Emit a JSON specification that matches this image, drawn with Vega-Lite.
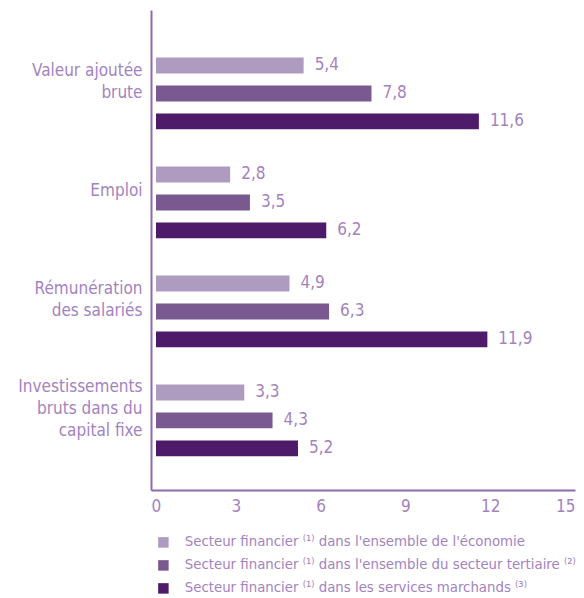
{
  "$schema": "https://vega.github.io/schema/vega-lite/v6.json",
  "width": 424,
  "height": 480,
  "padding": {"left": 17, "top": 10, "right": 5, "bottom": 5},
  "config": {
    "view": {"stroke": null},
    "font": "'DejaVu Sans Condensed', sans-serif",
    "locale": {"number": {"decimal": ",", "thousands": " ", "grouping": [3], "currency": ["", " €"]}}
  },
  "data": {
    "values": [
      {"cat": "Valeur ajoutée brute", "serie": "Secteur financier ⁽¹⁾ dans l'ensemble de l'économie", "v": 5.4},
      {"cat": "Valeur ajoutée brute", "serie": "Secteur financier ⁽¹⁾ dans l'ensemble du secteur tertiaire ⁽²⁾", "v": 7.8},
      {"cat": "Valeur ajoutée brute", "serie": "Secteur financier ⁽¹⁾ dans les services marchands ⁽³⁾", "v": 11.6},
      {"cat": "Emploi", "serie": "Secteur financier ⁽¹⁾ dans l'ensemble de l'économie", "v": 2.8},
      {"cat": "Emploi", "serie": "Secteur financier ⁽¹⁾ dans l'ensemble du secteur tertiaire ⁽²⁾", "v": 3.5},
      {"cat": "Emploi", "serie": "Secteur financier ⁽¹⁾ dans les services marchands ⁽³⁾", "v": 6.2},
      {"cat": "Rémunération des salariés", "serie": "Secteur financier ⁽¹⁾ dans l'ensemble de l'économie", "v": 4.9},
      {"cat": "Rémunération des salariés", "serie": "Secteur financier ⁽¹⁾ dans l'ensemble du secteur tertiaire ⁽²⁾", "v": 6.3},
      {"cat": "Rémunération des salariés", "serie": "Secteur financier ⁽¹⁾ dans les services marchands ⁽³⁾", "v": 11.9},
      {"cat": "Investissements bruts dans du capital fixe", "serie": "Secteur financier ⁽¹⁾ dans l'ensemble de l'économie", "v": 3.3},
      {"cat": "Investissements bruts dans du capital fixe", "serie": "Secteur financier ⁽¹⁾ dans l'ensemble du secteur tertiaire ⁽²⁾", "v": 4.3},
      {"cat": "Investissements bruts dans du capital fixe", "serie": "Secteur financier ⁽¹⁾ dans les services marchands ⁽³⁾", "v": 5.2}
    ]
  },
  "encoding": {
    "y": {
      "field": "cat", "type": "nominal", "sort": null,
      "scale": {"paddingInner": 0.23, "paddingOuter": 0.317, "align": 0.6},
      "axis": {
        "title": null, "ticks": false, "domainColor": "#8e6aa9", "domainWidth": 2,
        "labelColor": "#a383bf", "labelFontSize": 17, "labelPadding": 9, "labelLineHeight": 22,
        "labelOffset": {"condition": [
          {"test": "datum.value == 'Emploi'", "value": -11},
          {"test": "datum.value == 'Investissements bruts dans du capital fixe'", "value": -33}
        ], "value": -22},
        "labelLimit": 200,
        "labelExpr": "datum.label == 'Valeur ajoutée brute' ? ['Valeur ajoutée','brute'] : datum.label == 'Rémunération des salariés' ? ['Rémunération','des salariés'] : datum.label == 'Investissements bruts dans du capital fixe' ? ['Investissements','bruts dans du','capital fixe'] : datum.label"
      }
    },
    "yOffset": {
      "field": "serie", "type": "nominal", "sort": null,
      "scale": {"paddingInner": 0.43, "paddingOuter": 0.215}
    },
    "x": {
      "field": "v", "type": "quantitative",
      "scale": {"domain": [0, 15], "nice": false},
      "axis": {
        "title": null, "values": [0, 3, 6, 9, 12, 15], "ticks": false, "grid": false,
        "domainColor": "#8e6aa9", "domainWidth": 2, "labelColor": "#a383bf",
        "labelFontSize": 17, "labelPadding": 8, "format": "d"
      }
    }
  },
  "layer": [
    {
      "mark": {"type": "bar", "x2Offset": 5},
      "encoding": {
        "x": {"field": "v", "type": "quantitative", "stack": null},
        "x2": {"datum": 0},
        "color": {
          "field": "serie", "type": "nominal", "sort": null,
          "scale": {"range": ["#ad9cbf", "#7a5990", "#4e1b6b"]},
          "legend": {
            "title": null, "orient": "bottom", "direction": "vertical",
            "symbolType": "square", "symbolSize": 110, "symbolStrokeWidth": 0, "labelFontSize": 14.8,
            "labelColor": "#a383bf", "labelLimit": 500, "rowPadding": 7, "offset": 16,
            "labelOffset": 14, "padding": 5
          }
        }
      }
    },
    {
      "mark": {"type": "text", "align": "left", "dx": 11, "fontSize": 17, "color": "#a383bf"},
      "encoding": {"text": {"field": "v", "type": "quantitative", "format": ".1f"}}
    }
  ]
}
